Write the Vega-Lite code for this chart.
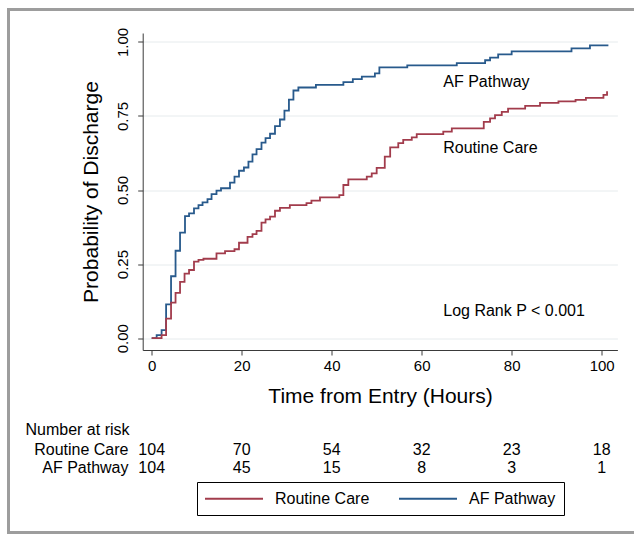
{
  "$schema": "https://vega.github.io/schema/vega-lite/v6.json",
  "width": 628.5,
  "height": 523,
  "autosize": {"type": "none"},
  "padding": {"left": 8.5, "top": 9.5, "right": -3, "bottom": 2.5},
  "background": "white",
  "config": {
    "font": "Liberation Sans",
    "view": {"stroke": "#9d9d9d", "strokeWidth": 3},
    "text": {"font": "Liberation Sans"},
    "axis": {"labelFontSize": 15, "labelFont": "Liberation Sans", "titleFont": "Liberation Sans"}
  },
  "datasets": {
    "km": [
      {"group": "AF Pathway", "t": 0, "p": 0},
      {"group": "AF Pathway", "t": 1.1, "p": 0.01},
      {"group": "AF Pathway", "t": 2.2, "p": 0.027},
      {"group": "AF Pathway", "t": 3.2, "p": 0.114},
      {"group": "AF Pathway", "t": 4.3, "p": 0.209},
      {"group": "AF Pathway", "t": 5.3, "p": 0.295},
      {"group": "AF Pathway", "t": 6.3, "p": 0.356},
      {"group": "AF Pathway", "t": 7.4, "p": 0.412},
      {"group": "AF Pathway", "t": 8.3, "p": 0.421},
      {"group": "AF Pathway", "t": 9.4, "p": 0.438},
      {"group": "AF Pathway", "t": 10.4, "p": 0.449},
      {"group": "AF Pathway", "t": 11.3, "p": 0.458},
      {"group": "AF Pathway", "t": 12.4, "p": 0.469},
      {"group": "AF Pathway", "t": 13.3, "p": 0.486},
      {"group": "AF Pathway", "t": 14.4, "p": 0.498},
      {"group": "AF Pathway", "t": 15.4, "p": 0.506},
      {"group": "AF Pathway", "t": 17.4, "p": 0.525},
      {"group": "AF Pathway", "t": 18.4, "p": 0.545},
      {"group": "AF Pathway", "t": 19.4, "p": 0.565},
      {"group": "AF Pathway", "t": 20.5, "p": 0.576},
      {"group": "AF Pathway", "t": 21.5, "p": 0.596},
      {"group": "AF Pathway", "t": 22.4, "p": 0.62},
      {"group": "AF Pathway", "t": 23.3, "p": 0.638},
      {"group": "AF Pathway", "t": 24.4, "p": 0.66},
      {"group": "AF Pathway", "t": 25.3, "p": 0.675},
      {"group": "AF Pathway", "t": 26.3, "p": 0.69},
      {"group": "AF Pathway", "t": 27.4, "p": 0.716},
      {"group": "AF Pathway", "t": 28.5, "p": 0.738},
      {"group": "AF Pathway", "t": 29.5, "p": 0.768},
      {"group": "AF Pathway", "t": 30.5, "p": 0.805},
      {"group": "AF Pathway", "t": 31.5, "p": 0.836},
      {"group": "AF Pathway", "t": 32.6, "p": 0.846},
      {"group": "AF Pathway", "t": 36.5, "p": 0.855},
      {"group": "AF Pathway", "t": 42.6, "p": 0.864},
      {"group": "AF Pathway", "t": 44.7, "p": 0.874},
      {"group": "AF Pathway", "t": 46.7, "p": 0.883},
      {"group": "AF Pathway", "t": 49.6, "p": 0.894},
      {"group": "AF Pathway", "t": 50.6, "p": 0.914},
      {"group": "AF Pathway", "t": 56.8, "p": 0.921},
      {"group": "AF Pathway", "t": 67.8, "p": 0.928},
      {"group": "AF Pathway", "t": 74.1, "p": 0.938},
      {"group": "AF Pathway", "t": 75.2, "p": 0.947},
      {"group": "AF Pathway", "t": 77.0, "p": 0.958},
      {"group": "AF Pathway", "t": 80.0, "p": 0.968},
      {"group": "AF Pathway", "t": 93.3, "p": 0.978},
      {"group": "AF Pathway", "t": 97.4, "p": 0.988},
      {"group": "AF Pathway", "t": 101.5, "p": 0.988},
      {"group": "Routine Care", "t": 0, "p": 0},
      {"group": "Routine Care", "t": 2.2, "p": 0.01},
      {"group": "Routine Care", "t": 3.2, "p": 0.066},
      {"group": "Routine Care", "t": 4.3, "p": 0.12},
      {"group": "Routine Care", "t": 5.3, "p": 0.153},
      {"group": "Routine Care", "t": 6.3, "p": 0.19},
      {"group": "Routine Care", "t": 7.3, "p": 0.218},
      {"group": "Routine Care", "t": 8.3, "p": 0.23},
      {"group": "Routine Care", "t": 9.4, "p": 0.258},
      {"group": "Routine Care", "t": 10.4, "p": 0.264},
      {"group": "Routine Care", "t": 11.5, "p": 0.268},
      {"group": "Routine Care", "t": 14.4, "p": 0.286},
      {"group": "Routine Care", "t": 16.3, "p": 0.294},
      {"group": "Routine Care", "t": 18.4, "p": 0.3},
      {"group": "Routine Care", "t": 19.4, "p": 0.322},
      {"group": "Routine Care", "t": 21.3, "p": 0.342},
      {"group": "Routine Care", "t": 22.4, "p": 0.351},
      {"group": "Routine Care", "t": 23.3, "p": 0.362},
      {"group": "Routine Care", "t": 24.4, "p": 0.39},
      {"group": "Routine Care", "t": 25.3, "p": 0.401},
      {"group": "Routine Care", "t": 26.3, "p": 0.41},
      {"group": "Routine Care", "t": 27.4, "p": 0.43},
      {"group": "Routine Care", "t": 28.5, "p": 0.44},
      {"group": "Routine Care", "t": 30.7, "p": 0.449},
      {"group": "Routine Care", "t": 34.4, "p": 0.456},
      {"group": "Routine Care", "t": 35.5, "p": 0.464},
      {"group": "Routine Care", "t": 37.4, "p": 0.475},
      {"group": "Routine Care", "t": 41.7, "p": 0.483},
      {"group": "Routine Care", "t": 42.6, "p": 0.517},
      {"group": "Routine Care", "t": 43.7, "p": 0.536},
      {"group": "Routine Care", "t": 47.8, "p": 0.545},
      {"group": "Routine Care", "t": 48.9, "p": 0.556},
      {"group": "Routine Care", "t": 50.0, "p": 0.575},
      {"group": "Routine Care", "t": 51.8, "p": 0.613},
      {"group": "Routine Care", "t": 53.0, "p": 0.644},
      {"group": "Routine Care", "t": 54.8, "p": 0.658},
      {"group": "Routine Care", "t": 55.9, "p": 0.669},
      {"group": "Routine Care", "t": 57.8, "p": 0.678},
      {"group": "Routine Care", "t": 58.9, "p": 0.689},
      {"group": "Routine Care", "t": 64.8, "p": 0.697},
      {"group": "Routine Care", "t": 66.7, "p": 0.708},
      {"group": "Routine Care", "t": 73.8, "p": 0.73},
      {"group": "Routine Care", "t": 75.2, "p": 0.742},
      {"group": "Routine Care", "t": 76.3, "p": 0.753},
      {"group": "Routine Care", "t": 77.8, "p": 0.764},
      {"group": "Routine Care", "t": 79.2, "p": 0.775},
      {"group": "Routine Care", "t": 83.0, "p": 0.784},
      {"group": "Routine Care", "t": 86.3, "p": 0.794},
      {"group": "Routine Care", "t": 90.4, "p": 0.799},
      {"group": "Routine Care", "t": 94.2, "p": 0.804},
      {"group": "Routine Care", "t": 96.5, "p": 0.811},
      {"group": "Routine Care", "t": 100.4, "p": 0.821},
      {"group": "Routine Care", "t": 101.2, "p": 0.833}
    ],
    "notes": [
      {"label": "AF Pathway", "t": 64.8, "p": 0.863},
      {"label": "Routine Care", "t": 64.8, "p": 0.6435},
      {"label": "Log Rank P < 0.001", "t": 64.8, "p": 0.0933}
    ],
    "risk": [
      {"group": "Routine Care", "t": 0, "n": 104},
      {"group": "Routine Care", "t": 20, "n": 70},
      {"group": "Routine Care", "t": 40, "n": 54},
      {"group": "Routine Care", "t": 60, "n": 32},
      {"group": "Routine Care", "t": 80, "n": 23},
      {"group": "Routine Care", "t": 100, "n": 18},
      {"group": "AF Pathway", "t": 0, "n": 104},
      {"group": "AF Pathway", "t": 20, "n": 45},
      {"group": "AF Pathway", "t": 40, "n": 15},
      {"group": "AF Pathway", "t": 60, "n": 8},
      {"group": "AF Pathway", "t": 80, "n": 3},
      {"group": "AF Pathway", "t": 100, "n": 1}
    ]
  },
  "layer": [
    {
      "layer": [
        {
          "data": {"name": "km"},
          "mark": {"type": "line", "interpolate": "step-after", "strokeWidth": 1.8},
          "encoding": {
            "x": {
              "field": "t", "type": "quantitative",
              "scale": {"domain": [-2, 103.5], "range": [134.2, 608.9], "nice": false, "zero": false},
              "axis": {
                "values": [0, 20, 40, 60, 80, 100],
                "offset": -182.5,
                "grid": false,
                "labelFontSize": 15, "labelPadding": 3, "labelFlush": false, "labelOverlap": false,
                "labelColor": "black",
                "tickSize": 5, "tickColor": "#3a3a3a", "domainColor": "#3a3a3a",
                "title": "Time from Entry (Hours)",
                "titleFontSize": 21, "titleFontWeight": "normal", "titleColor": "black", "titlePadding": 12
              }
            },
            "y": {
              "field": "p", "type": "quantitative",
              "scale": {"domain": [-0.04, 1.03], "range": [340.5, 23.5], "nice": false, "zero": false},
              "axis": {
                "values": [0, 0.25, 0.5, 0.75, 1],
                "format": ".2f",
                "offset": -134.2,
                "grid": true, "gridColor": "#e6ebed", "gridWidth": 1,
                "labelAngle": -90, "labelAlign": "center", "labelBaseline": "bottom",
                "labelFontSize": 15, "labelPadding": 7, "labelColor": "black", "labelOverlap": false,
                "tickSize": 5, "tickColor": "#3a3a3a", "domainColor": "#3a3a3a",
                "title": "Probability of Discharge",
                "titleFontSize": 21, "titleFontWeight": "normal", "titleColor": "black", "titlePadding": 14
              }
            },
            "color": {
              "field": "group", "type": "nominal",
              "scale": {"domain": ["Routine Care", "AF Pathway"], "range": ["#a23c4c", "#285a8c"]},
              "legend": {
                "orient": "none", "legendX": 188.5, "legendY": 472.5,
                "direction": "horizontal", "title": null,
                "strokeColor": "black", "fillColor": "white", "padding": 8,
                "symbolType": "M-4,0H4", "symbolSize": 210.25, "symbolStrokeWidth": 1.8,
                "symbolOffset": 20.5,
                "labelFontSize": 16, "labelColor": "black", "labelOffset": 32.5, "columnPadding": 25
              }
            }
          }
        },
        {
          "data": {"name": "notes"},
          "mark": {"type": "text", "align": "left", "baseline": "middle", "fontSize": 16, "color": "black"},
          "encoding": {
            "x": {"field": "t", "type": "quantitative"},
            "y": {"field": "p", "type": "quantitative"},
            "text": {"field": "label"}
          }
        }
      ]
    },
    {
      "data": {"name": "risk"},
      "mark": {"type": "text", "align": "center", "baseline": "middle", "fontSize": 16, "color": "black"},
      "encoding": {
        "x": {"field": "t", "type": "quantitative"},
        "y": {
          "field": "group", "type": "nominal",
          "scale": {"type": "point", "domain": ["Routine Care", "AF Pathway"], "range": [440, 458], "padding": 0},
          "axis": {
            "orient": "left", "offset": -121.5,
            "domain": false, "ticks": false, "grid": false,
            "labelFontSize": 16, "labelAlign": "right", "labelBaseline": "middle", "labelPadding": 2, "labelColor": "black",
            "title": "Number at risk", "titleAngle": 0, "titleAlign": "left", "titleBaseline": "middle",
            "titleX": -105, "titleY": 419.5, "titleFontSize": 16, "titleFontWeight": "normal", "titleColor": "black"
          }
        },
        "text": {"field": "n"}
      }
    }
  ],
  "resolve": {"scale": {"y": "independent"}, "axis": {"y": "independent"}}
}
